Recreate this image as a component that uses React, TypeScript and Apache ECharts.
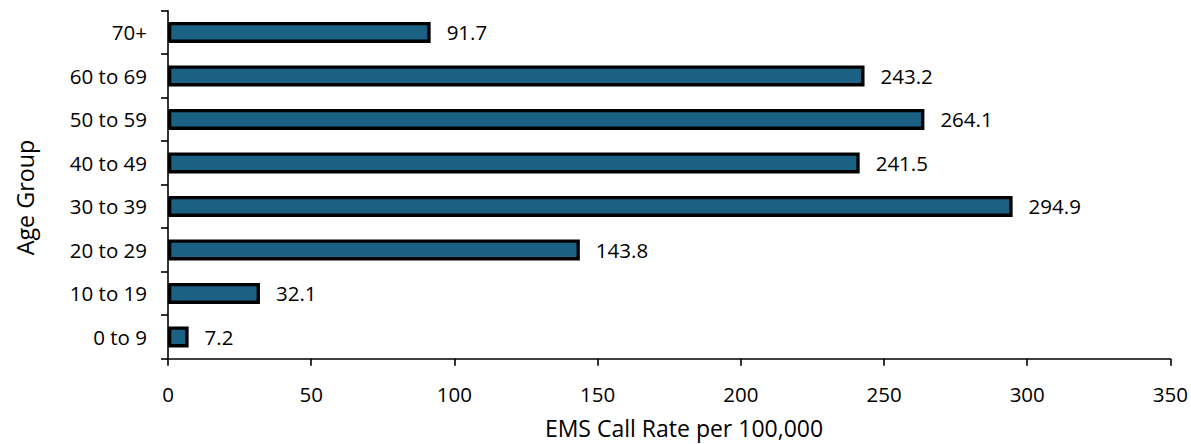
import React, { useEffect, useRef } from "react";
import * as echarts from "echarts";

const categories = ["0 to 9", "10 to 19", "20 to 29", "30 to 39", "40 to 49", "50 to 59", "60 to 69", "70+"];
const rates = [7.2, 32.1, 143.8, 294.9, 241.5, 264.1, 243.2, 91.7];
const xTitle = "EMS Call Rate per 100,000";
const yTitle = "Age Group";

const FONT = "'Open Sans', sans-serif";

export default function App() {
  const ref = useRef<HTMLDivElement>(null);
  useEffect(() => {
    document.body.style.margin = "0";
    const chart = echarts.init(ref.current!, undefined, { renderer: "svg" });
    chart.setOption({
      animation: false,
      backgroundColor: "#ffffff",
      textStyle: { fontFamily: FONT },
      grid: { left: 168, right: 19.5, top: 10.7, bottom: 85.3, containLabel: false },
      xAxis: {
        type: "value",
        min: 0,
        max: 350,
        interval: 50,
        axisLine: { show: true, lineStyle: { color: "#000", width: 1.6 } },
        axisTick: { show: true, length: 7, lineStyle: { color: "#000", width: 1.6 } },
        axisLabel: { fontSize: 20.5, color: "#000", margin: 25, fontFamily: FONT },
        splitLine: { show: false },
      },
      yAxis: {
        type: "category",
        data: categories,
        axisLine: { show: true, lineStyle: { color: "#000", width: 1.6 } },
        axisTick: { show: true, length: 7, lineStyle: { color: "#000", width: 1.6 } },
        axisLabel: { fontSize: 20.5, color: "#000", margin: 21, fontFamily: FONT },
        splitLine: { show: false },
      },
      graphic: [
        {
          type: "text",
          x: 24.5,
          y: 197.5,
          rotation: Math.PI / 2,
          style: {
            text: yTitle,
            fill: "#000",
            font: `23.3px ${FONT}`,
            align: "center",
            verticalAlign: "middle",
          },
        },
        {
          type: "text",
          x: 684,
          y: 428,
          style: {
            text: xTitle,
            fill: "#000",
            font: `23px ${FONT}`,
            align: "center",
            verticalAlign: "middle",
          },
        },
      ],
      series: [
        {
          type: "bar",
          data: rates,
          barCategoryGap: "52%",
          itemStyle: { color: "#1A6184", borderColor: "#000", borderWidth: 3.3 },
          label: {
            show: true,
            position: "right",
            distance: 16,
            color: "#000",
            fontSize: 20.5,
            fontFamily: FONT,
            formatter: (p: any) => p.value.toFixed(1),
          },
        },
      ],
    });
    return () => chart.dispose();
  }, []);
  return <div ref={ref} style={{ position: "fixed", left: 0, top: 0, width: 1191, height: 444 }} />;
}
